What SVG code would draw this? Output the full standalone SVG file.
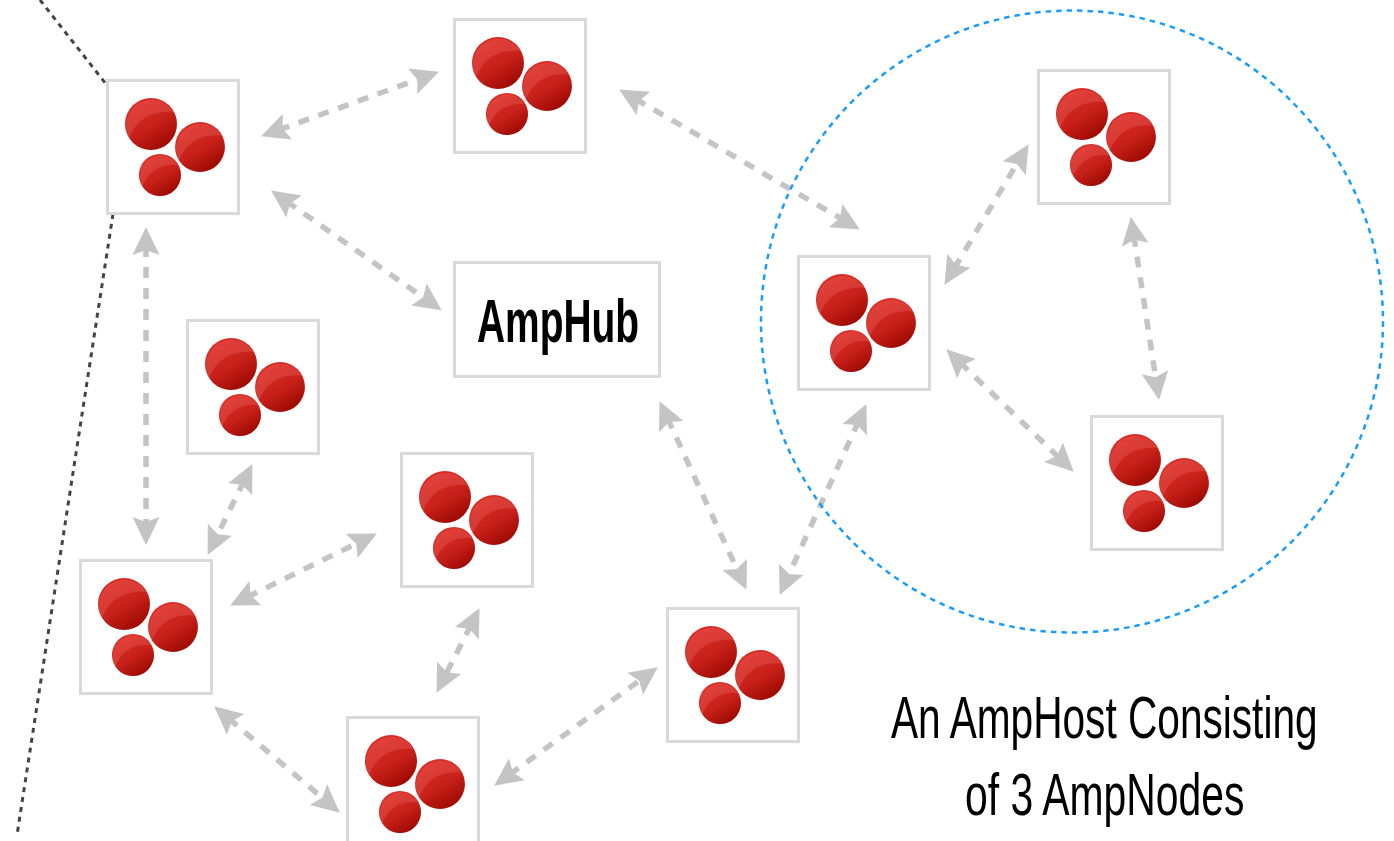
<svg xmlns="http://www.w3.org/2000/svg" xmlns:xlink="http://www.w3.org/1999/xlink" width="1394" height="841" viewBox="0 0 1394 841">
<style>
.box{fill:#fff;stroke:#d9d9d9;stroke-width:3}
.arrow{fill:none;stroke:#c4c4c4;stroke-width:5.500;stroke-dasharray:11 10;marker-start:url(#head);marker-end:url(#head)}
.edge{fill:none;stroke:#444;stroke-width:3;stroke-dasharray:5 5}
.hl{fill:#ff9a90;opacity:.2}
text{font-family:"Liberation Sans",Arial,sans-serif;fill:#000}
</style>
<defs>
<marker id="head" viewBox="0 0 28 28" refX="9" refY="14" markerUnits="userSpaceOnUse" markerWidth="28" markerHeight="28" orient="auto-start-reverse">
<path d="M0 0.500L28 14L0 27.500L5 14Z" fill="#c4c4c4"/>
</marker>
<linearGradient id="ball" x1="0.2" y1="0.05" x2="0.75" y2="0.95">
<stop offset="0" stop-color="#dc2c26"/><stop offset="0.55" stop-color="#c8201a"/><stop offset="1" stop-color="#9c0a02"/>
</linearGradient>
<g id="ballshape">
<circle r="26" fill="url(#ball)"/>
<path class="hl" d="M-22 14Q-10.500 -15 23 -12A26 26 0 0 0 -22 14Z"/>
</g>
<g id="balls">
<use xlink:href="#ballshape" href="#ballshape" transform="translate(44 44)"/>
<use xlink:href="#ballshape" href="#ballshape" transform="translate(93 67) scale(.96)"/>
<use xlink:href="#ballshape" href="#ballshape" transform="translate(53 95) scale(.81)"/>
</g>
</defs>
<rect width="1394" height="841" fill="#fff"/>
<g id="connectors">
<path class="edge" d="M40 0L106 84"/>
<path class="edge" d="M113 214L17 835"/>
<path class="arrow" d="M278.900 129.800L421.100 78.200"/>
<path class="arrow" d="M635.600 99L843.400 220"/>
<path class="arrow" d="M286.700 201.400L426.300 299.600"/>
<path class="arrow" d="M146 246L146 526"/>
<path class="arrow" d="M244 481.100L216 537.900"/>
<path class="arrow" d="M247.200 597.100L359.800 541.900"/>
<path class="arrow" d="M470.900 625.100L445.100 675.900"/>
<path class="arrow" d="M228.700 718.600L325.300 800.400"/>
<path class="arrow" d="M509.600 774.500L642.400 678.500"/>
<path class="arrow" d="M667.500 418.400L738.500 572.600"/>
<path class="arrow" d="M858.500 421.400L787.500 577.600"/>
<path class="arrow" d="M954.200 268.500L1018.800 160.500"/>
<path class="arrow" d="M1133.800 235.800L1156.200 381.200"/>
<path class="arrow" d="M960 362.500L1060 458.500"/>
</g>
<g id="node1"><rect class="box" x="107.500" y="80.500" width="131" height="133"/><use xlink:href="#balls" href="#balls" x="107" y="80"/></g>
<g id="node2"><rect class="box" x="454.500" y="19.500" width="131" height="133"/><use xlink:href="#balls" href="#balls" x="454" y="19"/></g>
<g id="node3"><rect class="box" x="798.500" y="256.500" width="131" height="133"/><use xlink:href="#balls" href="#balls" x="798" y="256"/></g>
<g id="node4"><rect class="box" x="1038.500" y="70.500" width="131" height="133"/><use xlink:href="#balls" href="#balls" x="1038" y="70"/></g>
<g id="node5"><rect class="box" x="1091.500" y="416.500" width="131" height="133"/><use xlink:href="#balls" href="#balls" x="1091" y="416"/></g>
<g id="node6"><rect class="box" x="187.500" y="320.500" width="131" height="133"/><use xlink:href="#balls" href="#balls" x="187" y="320"/></g>
<g id="node7"><rect class="box" x="401.500" y="453.500" width="131" height="133"/><use xlink:href="#balls" href="#balls" x="401" y="453"/></g>
<g id="node8"><rect class="box" x="80.500" y="560.500" width="131" height="133"/><use xlink:href="#balls" href="#balls" x="80" y="560"/></g>
<g id="node9"><rect class="box" x="347.500" y="717.500" width="131" height="133"/><use xlink:href="#balls" href="#balls" x="347" y="717"/></g>
<g id="node10"><rect class="box" x="667.500" y="608.500" width="131" height="133"/><use xlink:href="#balls" href="#balls" x="667" y="608"/></g>
<g id="amphub"><rect class="box" x="454.500" y="262.500" width="205" height="114"/>
<text transform="translate(477 342) scale(.638 1)" font-size="61" font-weight="700">AmpHub</text></g>
<g id="amphost"><circle cx="1072" cy="321.500" r="311" fill="none" stroke="#1a9cff" stroke-width="2.500" stroke-dasharray="5.500 5"/></g>
<g id="label">
<text transform="translate(891 738) scale(.677 1)" font-size="60">An AmpHost Consisting</text>
<text transform="translate(965 815) scale(.681 1)" font-size="60">of 3 AmpNodes</text>
</g>
</svg>
